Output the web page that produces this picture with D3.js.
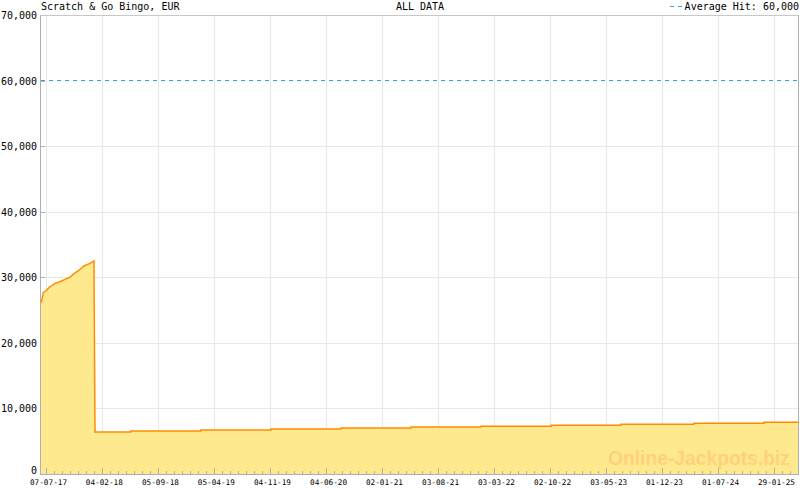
<!DOCTYPE html>
<html><head><meta charset="utf-8">
<script src="https://cdn.jsdelivr.net/npm/d3@7/dist/d3.min.js"></script>
<style>body{margin:0;background:#fff}svg{display:block}</style>
</head><body>
<svg id="c" width="800" height="490"></svg>
<script>
const title = "Scratch & Go Bingo, EUR";
const subtitle = "ALL DATA";
const legendLabel = "Average Hit: 60,000";
const averageHit = 60000;
const domainDates = ["2017-06-18", "2025-05-04"];
const dates = ["2017-06-18","2017-06-21","2017-06-27","2017-07-07","2017-07-22","2017-08-10","2017-08-29","2017-09-17","2017-10-06","2017-10-19","2017-11-07","2017-11-28","2017-12-21","2018-01-01","2018-01-05","2018-01-07","2018-01-09","2018-05-25","2019-02-15","2019-11-08","2020-07-31","2021-04-22","2022-01-13","2022-10-06","2023-06-28","2024-03-31","2024-12-22","2025-05-04"];
const values = [26080,26530,27650,27950,28560,29080,29330,29690,30000,30500,31000,31720,32130,32400,32480,19400,6400,6550,6700,6850,7000,7150,7300,7450,7580,7730,7880,7880];
const stepFrom = "2018-01-09"; // after this date the series moves in flat steps
const yTicks = [0,10000,20000,30000,40000,50000,60000,70000];
const xTickLabels = ["07-07-17","04-02-18","05-09-18","05-04-19","04-11-19","04-06-20","02-01-21","03-08-21","03-03-22","02-10-22","03-05-23","01-12-23","01-07-24","29-01-25"];

const svg = d3.select("#c");
const L = 41, R = 799, T = 15, B = 474;
const parse = d3.timeParse("%Y-%m-%d");
const parseTick = d3.timeParse("%d-%m-%y");
const x = d3.scaleTime().domain(domainDates.map(parse)).range([L, R]);
const y = d3.scaleLinear().domain([0, 70000]).range([B, T]);
const raw = dates.map((d, i) => ({d: parse(d), v: values[i]}));
const sf = parse(stepFrom);
const data = [];
raw.forEach((p, i) => {
  data.push(p);
  const n = raw[i + 1];
  if (n && p.d >= sf) data.push({d: n.d, v: p.v});
});
const majors = xTickLabels.map(parseTick);
const font = "'DejaVu Sans Mono', monospace";
const avgColor = "#2aa8d8";

// grid
const g = svg.append("g");
g.selectAll(".hg").data(yTicks.slice(1).filter(v => v !== averageHit)).enter().append("line")
  .attr("x1", L).attr("x2", R).attr("y1", d => Math.round(y(d)) + 0.5).attr("y2", d => Math.round(y(d)) + 0.5)
  .attr("stroke", "#e8e8e8");
g.selectAll(".vg").data(majors).enter().append("line")
  .attr("x1", d => Math.round(x(d)) + 0.5).attr("x2", d => Math.round(x(d)) + 0.5).attr("y1", T).attr("y2", B)
  .attr("stroke", "#e8e8e8");
g.selectAll(".lt").data(yTicks.slice(1)).enter().append("line")
  .attr("x1", L).attr("x2", L + 4).attr("y1", d => Math.round(y(d)) + 0.5).attr("y2", d => Math.round(y(d)) + 0.5)
  .attr("stroke", "#b0b0b0");

// area + line
const area = d3.area().x(d => x(d.d)).y0(B).y1(d => y(d.v));
const line = d3.line().x(d => x(d.d)).y(d => y(d.v));
svg.append("path").datum(data).attr("d", area).attr("fill", "#ffe98f");
svg.append("path").datum(data).attr("d", line).attr("fill", "none").attr("stroke", "#ff8c00").attr("stroke-width", 1.5);

// watermark
svg.append("text").attr("x", 608).attr("y", 465)
  .attr("font-family", "'Liberation Sans', Arial, sans-serif").attr("font-weight", "bold").attr("font-size", 20)
  .attr("fill", "#ffd27a").attr("textLength", 182).attr("lengthAdjust", "spacingAndGlyphs")
  .text("Online-Jackpots.biz");

// borders
svg.append("line").attr("x1", L).attr("x2", R).attr("y1", T + 0.5).attr("y2", T + 0.5).attr("stroke", "#c8c8c8");
svg.append("line").attr("x1", R - 0.5).attr("x2", R - 0.5).attr("y1", T).attr("y2", B).attr("stroke", "#b0b0b0");
svg.append("line").attr("x1", L - 0.5).attr("x2", L - 0.5).attr("y1", T).attr("y2", B + 1).attr("stroke", "#b0b0b0");
svg.append("line").attr("x1", L).attr("x2", R).attr("y1", B + 0.5).attr("y2", B + 0.5).attr("stroke", "#b0b0b0");

// x ticks: majors and 7 subdivisions
const minors = [];
for (let i = 0; i < majors.length; i++) {
  const a = +majors[i];
  const step = i < majors.length - 1 ? (+majors[i + 1] - a) / 7 : (a - +majors[i - 1]) / 7;
  for (let k = 1; k < 7; k++) {
    const t = new Date(a + k * step);
    if (t <= x.domain()[1]) minors.push(t);
  }
}
svg.selectAll(".mt").data(minors).enter().append("line")
  .attr("x1", d => Math.round(x(d)) + 0.5).attr("x2", d => Math.round(x(d)) + 0.5)
  .attr("y1", B - 3).attr("y2", B).attr("stroke", "#b0b0b0");
svg.selectAll(".Mt").data(majors).enter().append("line")
  .attr("x1", d => Math.round(x(d)) + 0.5).attr("x2", d => Math.round(x(d)) + 0.5)
  .attr("y1", B - 6).attr("y2", B).attr("stroke", "#b0b0b0");

// x labels
svg.selectAll(".xl").data(majors).enter().append("text")
  .attr("x", d => x(d) + 2.5).attr("y", 485).attr("text-anchor", "middle")
  .attr("font-family", font).attr("font-size", 7.7).attr("fill", "#000")
  .text((d, i) => xTickLabels[i]);

// y labels
svg.selectAll(".yl").data(yTicks).enter().append("text")
  .attr("x", 37).attr("y", d => Math.min(y(d) + 4, B)).attr("text-anchor", "end")
  .attr("font-family", font).attr("font-size", 10).attr("fill", "#000")
  .text(d => d3.format(",")(d));

// average line
svg.append("line").attr("x1", L).attr("x2", R).attr("y1", Math.round(y(averageHit)) - 0.5).attr("y2", Math.round(y(averageHit)) - 0.5)
  .attr("stroke", avgColor).attr("stroke-width", 1).attr("shape-rendering", "crispEdges").attr("stroke-dasharray", "4,4");

// titles
svg.append("text").attr("x", 41).attr("y", 10).attr("font-family", font).attr("font-size", 10).text(title);
svg.append("text").attr("x", 420).attr("y", 10).attr("text-anchor", "middle").attr("font-family", font).attr("font-size", 10).text(subtitle);
svg.append("text").attr("x", 799).attr("y", 10).attr("text-anchor", "end").attr("font-family", font).attr("font-size", 10).text(legendLabel);
svg.append("line").attr("x1", 670).attr("x2", 683).attr("y1", 6.5).attr("y2", 6.5).attr("stroke", avgColor).attr("shape-rendering", "crispEdges").attr("stroke-dasharray", "4,4");
</script>
</body></html>
